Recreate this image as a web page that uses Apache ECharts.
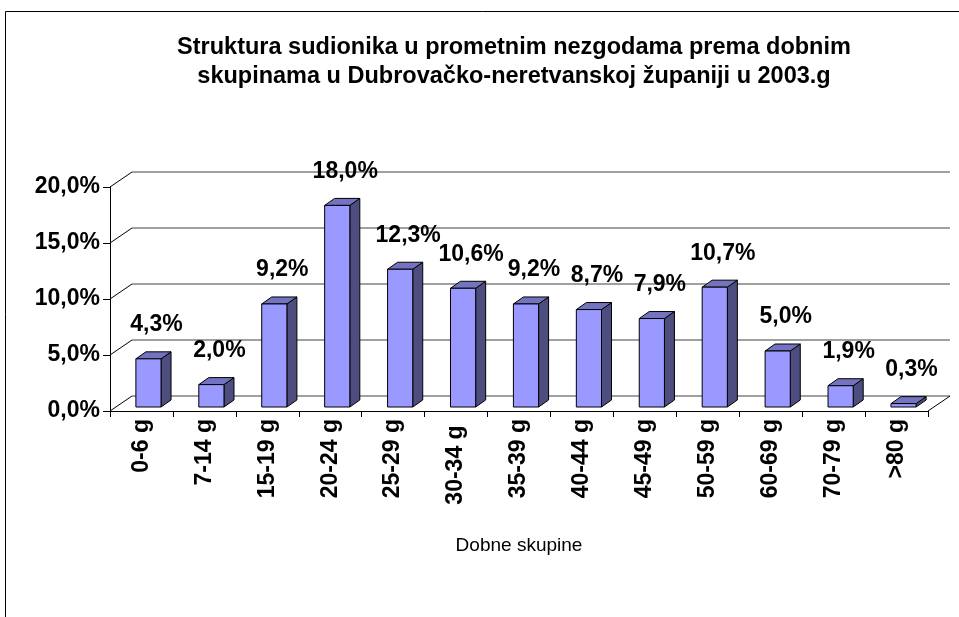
<!DOCTYPE html>
<html>
<head>
<meta charset="utf-8">
<script src="https://cdn.jsdelivr.net/npm/echarts@6/dist/echarts.min.js"></script>
<style>
  html, body { margin: 0; padding: 0; background: #fff; }
  #chart { width: 959px; height: 617px; }
</style>
</head>
<body>
<div id="chart"></div>
<script>
const categories = ['0-6 g', '7-14 g', '15-19 g', '20-24 g', '25-29 g', '30-34 g ', '35-39 g', '40-44 g', '45-49 g', '50-59 g', '60-69 g', '70-79 g', '>80 g'];
const shares = [4.3, 2.0, 9.2, 18.0, 12.3, 10.6, 9.2, 8.7, 7.9, 10.7, 5.0, 1.9, 0.3];
const yTicks = [0, 5, 10, 15, 20];

// 3D look: wall depth, bar depth, bar offset inside the floor
const WALL = [22, -15];
const DEPTH = [10, -7];
const SHIFT = [7, -4];

const fmt = v => v.toFixed(1).replace('.', ',') + '%';
const boldFont = { fontFamily: 'Liberation Sans, Arial, sans-serif', fontWeight: 'bold', fontSize: 23, color: '#000' };

const chart = echarts.init(document.getElementById('chart'));

function renderBar(params, api) {
  const i = api.value(0), v = api.value(1);
  const base = api.coord([i, 0]);
  const top = api.coord([i, v]);
  const w = api.size([1, 0])[0] * 0.4;
  const x0 = base[0] - w / 2 + SHIFT[0];
  const by = base[1] + SHIFT[1];
  const ty = top[1] + SHIFT[1];
  const st = { stroke: '#000', lineWidth: 1 };
  return {
    type: 'group',
    children: [
      { type: 'polygon', shape: { points: [[x0 + w, ty], [x0 + w + DEPTH[0], ty + DEPTH[1]], [x0 + w + DEPTH[0], by + DEPTH[1]], [x0 + w, by]] },
        style: Object.assign({ fill: '#4D4D80' }, st) },
      { type: 'polygon', shape: { points: [[x0, ty], [x0 + w, ty], [x0 + w + DEPTH[0], ty + DEPTH[1]], [x0 + DEPTH[0], ty + DEPTH[1]]] },
        style: Object.assign({ fill: '#7373C0' }, st) },
      { type: 'rect', shape: { x: x0, y: ty, width: w, height: by - ty },
        style: Object.assign({ fill: '#9999FF' }, st) },
      { type: 'text', x: x0 + w / 2 + 8, y: ty - 34,
        style: { text: fmt(v), align: 'center', verticalAlign: 'middle', fill: '#000',
          font: 'bold 23px "Liberation Sans", Arial, sans-serif' } }
    ]
  };
}

function renderWall(params, api) {
  const v = api.value(0);
  const half = api.size([1, 0])[0] / 2;
  const left = api.coord([0, v]);
  const x = left[0] - half, y = left[1];
  const lines = [{ type: 'line', shape: { x1: x, y1: y, x2: x + WALL[0], y2: y + WALL[1] }, style: { stroke: '#000', lineWidth: 1 } }];
  if (v === 0) {
    const right = api.coord([categories.length - 1, 0]);
    lines.push({ type: 'line', shape: { x1: right[0] + half, y1: right[1], x2: right[0] + half + WALL[0], y2: right[1] + WALL[1] },
      style: { stroke: '#000', lineWidth: 1 } });
  }
  return { type: 'group', children: lines };
}

chart.setOption({
  animation: false,
  title: {
    text: 'Struktura sudionika u prometnim nezgodama prema dobnim\nskupinama u Dubrovačko-neretvanskoj županiji u 2003.g',
    left: 509, top: 28, textAlign: 'center',
    textStyle: { fontFamily: 'Liberation Sans, Arial, sans-serif', fontWeight: 'bold', fontSize: 23.5, lineHeight: 29, color: '#000' }
  },
  graphic: [{ type: 'rect', shape: { x: 5.5, y: 11.5, width: 1000, height: 700 }, style: { fill: 'none', stroke: '#000', lineWidth: 1 }, silent: true }],
  grid: [
    { left: 110, right: 31, top: 187, bottom: 206 },
    { left: 110 + WALL[0], right: 31 - WALL[0], top: 187 + WALL[1], bottom: 206 - WALL[1] }
  ],
  xAxis: [
    { type: 'category', gridIndex: 0, data: categories,
      axisLine: { lineStyle: { color: '#000', width: 1 } },
      axisTick: { show: true, length: 6, lineStyle: { color: '#000' } },
      axisLabel: Object.assign({ rotate: 90, margin: 8, interval: 0 }, boldFont),
      name: 'Dobne skupine', nameLocation: 'middle', nameGap: 125,
      nameTextStyle: { fontFamily: 'Liberation Sans, Arial, sans-serif', fontSize: 19, color: '#000' } },
    { type: 'category', gridIndex: 1, data: categories,
      axisLine: { show: false }, axisTick: { show: false }, axisLabel: { show: false } }
  ],
  yAxis: [
    { type: 'value', gridIndex: 0, min: 0, max: 20, interval: 5,
      axisLine: { show: true, lineStyle: { color: '#000', width: 1 } },
      axisTick: { show: true, length: 7, lineStyle: { color: '#000' } },
      axisLabel: Object.assign({ margin: 10, formatter: fmt }, boldFont),
      splitLine: { show: false } },
    { type: 'value', gridIndex: 1, min: 0, max: 20, interval: 5,
      axisLine: { show: false }, axisTick: { show: false }, axisLabel: { show: false },
      splitLine: { show: true, lineStyle: { color: '#808080', width: 1.5 } } }
  ],
  series: [
    { type: 'custom', xAxisIndex: 0, yAxisIndex: 0, renderItem: renderWall,
      encode: { y: 0 }, data: yTicks.map(v => [v]), silent: true, z: 1 },
    { type: 'custom', xAxisIndex: 0, yAxisIndex: 0, renderItem: renderBar,
      encode: { x: 0, y: 1 }, data: shares.map((v, i) => [i, v]), clip: false, z: 3 }
  ]
});
</script>
</body>
</html>
